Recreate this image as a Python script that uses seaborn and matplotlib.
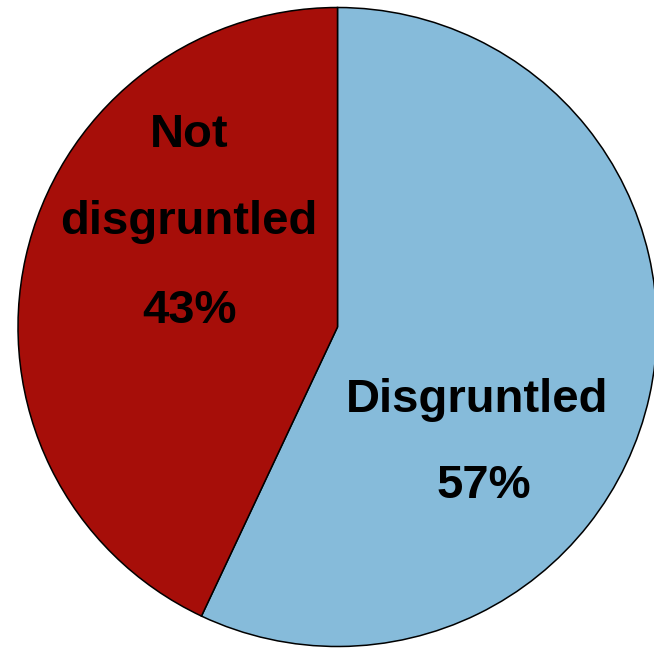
import matplotlib
matplotlib.use("Agg")
import matplotlib.pyplot as plt
import seaborn as sns

# Share of respondents in each group (percent)
groups = ["Disgruntled", "Not disgruntled"]
shares = [57, 43]
label_lines = [["Disgruntled"], ["Not", "disgruntled"]]
colors = ["#86BBDA", "#A60E09"]

sns.set_theme(style="white")
plt.rcParams["font.family"] = ["Liberation Sans", "DejaVu Sans"]

W, H = 654, 649
fig = plt.figure(figsize=(W / 100, H / 100), dpi=100)
ax = fig.add_axes([0, 0, 1, 1])

palette = sns.color_palette(colors)
wedges, _ = ax.pie(
    shares,
    colors=palette,
    startangle=90,
    counterclock=False,
    radius=1.0,
    wedgeprops=dict(edgecolor="black", linewidth=1.1),
)

# pixel geometry of the pie: centre and radius
cx, cy, R = 337.5, 327.0, 319.5
ax.set_xlim((0 - cx) / R, (W - cx) / R)
ax.set_ylim((cy - H) / R, (cy - 0) / R)
ax.set_aspect("equal", adjustable="box")
ax.axis("off")


def px(x, y):
    return (x - cx) / R, (cy - y) / R


# text placement (centre x of name, centre x of percentage, baselines), in pixels
placement = {
    "Disgruntled": (477, 484, [412.5, 498.0]),
    "Not disgruntled": (189, 189, [147.0, 234.0, 323.0]),
}

for name, share, lines in zip(groups, shares, label_lines):
    xn, xp, baselines = placement[name]
    texts = lines + [f"{share}%"]
    xs = [xn] * len(lines) + [xp]
    for t, xc, yb in zip(texts, xs, baselines):
        x, y = px(xc, yb)
        ax.text(x, y, t, ha="center", va="baseline",
                fontsize=34, fontweight="bold", color="black")

fig.savefig("out.png", dpi=100, facecolor="white")
